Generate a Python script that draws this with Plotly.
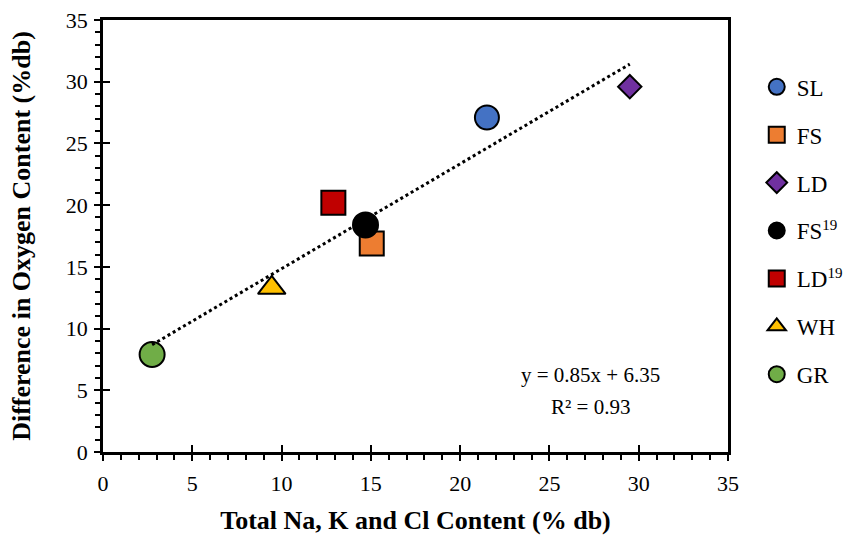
import plotly.graph_objects as go

SUP = '<sup><span style="font-size:15px">{}</span></sup>'

# Samples and measured values
labels = ["SL", "FS", "LD", "FS" + SUP.format("19"), "LD" + SUP.format("19"), "WH", "GR"]
na_k_cl = [21.5, 15.05, 29.5, 14.7, 12.9, 9.45, 2.75]      # % db
oxygen_diff = [27.1, 16.9, 29.6, 18.4, 20.2, 13.3, 7.9]     # % db

# Linear fit reported on the chart
slope = 0.85
intercept = 6.35
r_squared = 0.93

symbols = ["circle", "square", "diamond", "circle", "square", "triangle-up", "circle"]
colors = ["#4472C4", "#ED7D31", "#7030A0", "#000000", "#C00000", "#FFC000", "#70AD47"]
sizes = [24, 24, 18, 25, 24, 24, 25]

axis_ticks = [0, 5, 10, 15, 20, 25, 30, 35]

FONT = "Liberation Serif"

fig = go.Figure()

for lab, x, y, sym, col, sz in zip(labels, na_k_cl, oxygen_diff, symbols, colors, sizes):
    fig.add_trace(go.Scatter(
        x=[x], y=[y], mode="markers", name=lab, legendgroup=lab,
        marker=dict(symbol=sym, size=sz, color=col,
                    line=dict(color="black", width=2)),
    ))

# Trend line across the range of the data
x_lo, x_hi = min(na_k_cl), max(na_k_cl)
fig.add_trace(go.Scatter(
    x=[x_lo, x_hi], y=[slope * x_lo + intercept, slope * x_hi + intercept],
    mode="lines", line=dict(color="black", width=3, dash="dot"),
    showlegend=False, hoverinfo="skip",
))

# Inner halves of the major ticks (crossing ticks)
fig.add_trace(go.Scatter(x=[None], y=[None], xaxis="x2", yaxis="y2",
                         showlegend=False, hoverinfo="skip"))

axis_common = dict(
    range=[0, 35], tickvals=axis_ticks, showline=True, linecolor="black",
    linewidth=2.5, mirror=True, ticks="outside", ticklen=6, tickwidth=2,
    tickcolor="black", showgrid=False, zeroline=False, automargin=False,
    minor=dict(dtick=1, ticks="outside", ticklen=5, tickwidth=2, tickcolor="black"),
    tickfont=dict(family=FONT, size=22, color="black"),
)

fig.update_layout(
    width=846, height=538,
    margin=dict(l=103, r=118, t=20, b=86, autoexpand=False),
    paper_bgcolor="white", plot_bgcolor="white",
    xaxis=dict(axis_common, ticklabelstandoff=4,
               title=dict(text="<b>Total Na, K and Cl Content (% db)</b>",
                          font=dict(family=FONT, size=26, color="black"), standoff=16)),
    yaxis=dict(axis_common, ticklabelstandoff=2,
               title=dict(text="<b>Difference in Oxygen Content (%db)</b>",
                          font=dict(family=FONT, size=26, color="black"), standoff=28)),
    xaxis2=dict(range=[0, 35], tickvals=axis_ticks, overlaying="x", anchor="y",
                side="bottom", ticks="inside", ticklen=7, tickwidth=2,
                tickcolor="black", showticklabels=False, showgrid=False,
                zeroline=False, showline=False),
    yaxis2=dict(range=[0, 35], tickvals=axis_ticks, overlaying="y", anchor="x",
                side="left", ticks="inside", ticklen=7, tickwidth=2,
                tickcolor="black", showticklabels=False, showgrid=False,
                zeroline=False, showline=False),
    legend=dict(x=1.046, xanchor="left", y=0.895, yanchor="top",
                font=dict(family=FONT, size=23, color="black"),
                tracegroupgap=15, itemsizing="trace", bgcolor="rgba(0,0,0,0)"),
    showlegend=True,
)

fig.add_annotation(x=27.3, y=6.2, xref="x", yref="y",
                   text=f"y = {slope:.2f}x + {intercept:.2f}", showarrow=False,
                   xanchor="center", yanchor="middle",
                   font=dict(family=FONT, size=21, color="black"))
fig.add_annotation(x=27.3, y=3.65, xref="x", yref="y",
                   text=f"R² = {r_squared:.2f}", showarrow=False,
                   xanchor="center", yanchor="middle",
                   font=dict(family=FONT, size=21, color="black"))

fig.write_html("out.html")
